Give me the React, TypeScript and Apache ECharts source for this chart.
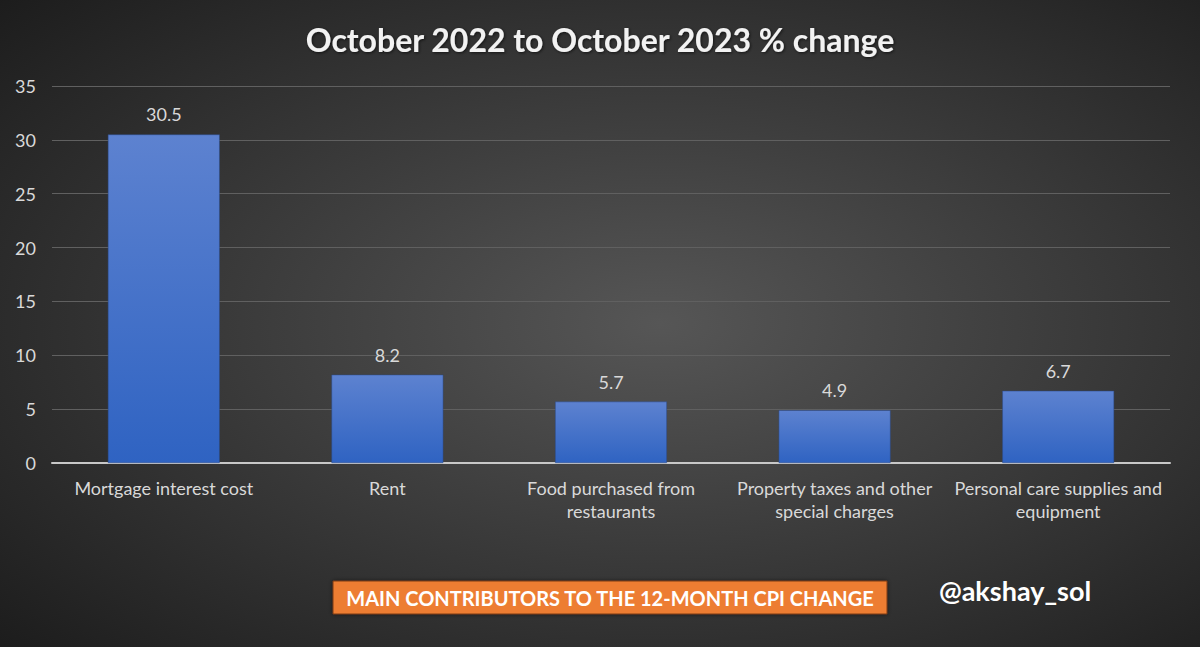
import React, { useEffect, useRef } from "react";
import * as echarts from "echarts";

const categories = [
  "Mortgage interest cost",
  "Rent",
  "Food purchased from\nrestaurants",
  "Property taxes and other\nspecial charges",
  "Personal care supplies and\nequipment",
];
const values = [30.5, 8.2, 5.7, 4.9, 6.7];
const titleText = "October 2022 to October 2023 % change";
const boxText = "MAIN CONTRIBUTORS TO THE 12-MONTH CPI CHANGE";
const handleText = "@akshay_sol";

export default function App() {
  const ref = useRef<HTMLDivElement>(null);
  useEffect(() => {
    document.body.style.margin = "0";
    const chart = echarts.init(ref.current!, null, { renderer: "svg" });
    const font = "Lato, 'Open Sans', sans-serif";
    chart.setOption({
      animation: false,
      backgroundColor: new echarts.graphic.RadialGradient(0.55, 0.5, 0.75, [
        { offset: 0, color: "#565656" },
        { offset: 1, color: "#1c1c1c" },
      ]),
      title: {
        text: titleText,
        left: "center",
        top: 18,
        textStyle: {
          color: "#f2f2f2",
          fontFamily: font,
          fontWeight: "bold",
          fontSize: 32,
          textShadowColor: "rgba(0,0,0,0.6)",
          textShadowBlur: 3,
          textShadowOffsetX: 1,
          textShadowOffsetY: 1,
        },
      },
      grid: { left: 52, right: 30, top: 86, bottom: 184, containLabel: false },
      xAxis: {
        type: "category",
        data: categories,
        axisLine: { show: true, lineStyle: { color: "#c8c8c8", width: 2 } },
        axisTick: { show: false },
        axisLabel: {
          color: "#d9d9d9",
          fontFamily: font,
          fontSize: 18,
          margin: 13,
          lineHeight: 23,
          interval: 0,
        },
      },
      yAxis: {
        type: "value",
        min: 0,
        max: 35,
        interval: 5,
        axisLine: { show: false },
        axisTick: { show: false },
        axisLabel: { color: "#d9d9d9", fontFamily: font, fontSize: 18, margin: 16 },
        splitLine: { lineStyle: { color: "#606060", width: 1 } },
      },
      series: [
        {
          type: "bar",
          data: values,
          barWidth: "50%",
          itemStyle: {
            color: new echarts.graphic.LinearGradient(0, 0, 0, 1, [
              { offset: 0, color: "#5d82d0" },
              { offset: 1, color: "#2f63c2" },
            ]),
            borderColor: "#2a4a8a",
            borderWidth: 0.5,
          },
          label: {
            show: true,
            position: "top",
            distance: 11,
            color: "#d9d9d9",
            fontFamily: font,
            fontSize: 18,
            formatter: (p: any) => p.value.toFixed(1),
          },
        },
      ],
      graphic: [
        {
          type: "rect",
          shape: { x: 333, y: 581, width: 554, height: 33 },
          style: {
            fill: "#ed7d31",
            stroke: "#7a3a10",
            lineWidth: 1,
            shadowColor: "rgba(0,0,0,0.5)",
            shadowBlur: 4,
          },
        },
        {
          type: "text",
          x: 610,
          y: 598,
          style: {
            text: boxText,
            fill: "#ffffff",
            font: `bold 20px ${font}`,
            align: "center",
            verticalAlign: "middle",
          },
        },
        {
          type: "text",
          x: 1015,
          y: 590,
          style: {
            text: handleText,
            fill: "#ffffff",
            font: `bold 27px ${font}`,
            align: "center",
            verticalAlign: "middle",
          },
        },
      ],
    });
    return () => chart.dispose();
  }, []);
  return <div ref={ref} style={{ width: 1200, height: 647 }} />;
}
